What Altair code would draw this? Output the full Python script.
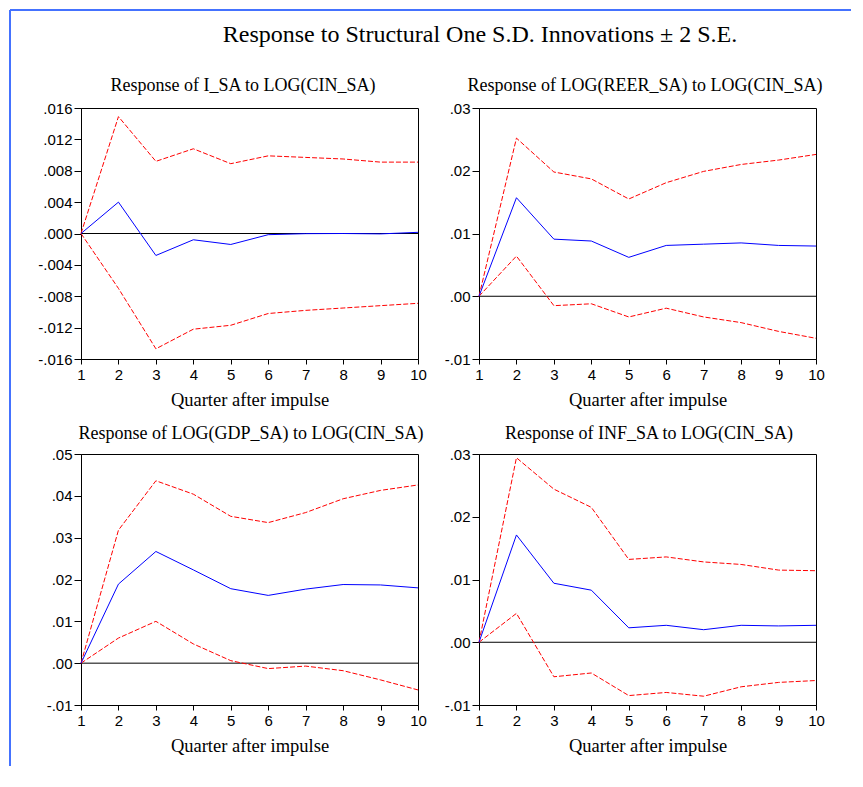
import altair as alt
import pandas as pd

quarters = list(range(1, 11))

titles = [
    "Response of I_SA to LOG(CIN_SA)",
    "Response of LOG(REER_SA) to LOG(CIN_SA)",
    "Response of LOG(GDP_SA) to LOG(CIN_SA)",
    "Response of INF_SA to LOG(CIN_SA)",
]
main_title = "Response to Structural One S.D. Innovations \u00b1 2 S.E."
x_title = "Quarter after impulse"

# Response of I_SA
isa_resp = [0, 0.0040, -0.0028, -0.0008, -0.0014, -0.00015, -0.00002, 0.0, -0.00005, 0.00015]
isa_up = [0, 0.0149, 0.0092, 0.0108, 0.0089, 0.0099, 0.0097, 0.0095, 0.0091, 0.0091]
isa_lo = [0, -0.0070, -0.0147, -0.0122, -0.0117, -0.0102, -0.0098, -0.0095, -0.0092, -0.0089]

# Response of LOG(REER_SA)
reer_resp = [0, 0.0157, 0.0091, 0.0088, 0.0062, 0.0081, 0.0083, 0.0085, 0.0081, 0.0080]
reer_up = [0, 0.0252, 0.0198, 0.0187, 0.0155, 0.0181, 0.0199, 0.0210, 0.0217, 0.0226]
reer_lo = [0, 0.0064, -0.0015, -0.0012, -0.0033, -0.0019, -0.0033, -0.0042, -0.0056, -0.0067]

# Response of LOG(GDP_SA)
gdp_resp = [0, 0.0189, 0.0267, 0.0223, 0.0178, 0.0162, 0.0177, 0.0188, 0.0187, 0.0180]
gdp_up = [0, 0.0318, 0.0436, 0.0404, 0.0351, 0.0336, 0.0360, 0.0393, 0.0413, 0.0426]
gdp_lo = [0, 0.0060, 0.0100, 0.0046, 0.0006, -0.0013, -0.0007, -0.0018, -0.0040, -0.0064]

# Response of INF_SA
inf_resp = [0, 0.0171, 0.0094, 0.0083, 0.0023, 0.0027, 0.0020, 0.0027, 0.0026, 0.0027]
inf_up = [0, 0.0294, 0.0244, 0.0215, 0.0132, 0.0136, 0.0128, 0.0124, 0.0115, 0.0114]
inf_lo = [0, 0.0046, -0.0055, -0.0049, -0.0085, -0.0080, -0.0086, -0.0071, -0.0064, -0.0061]

y_ticks = [
    [-0.016, -0.012, -0.008, -0.004, 0.0, 0.004, 0.008, 0.012, 0.016],
    [-0.01, 0.0, 0.01, 0.02, 0.03],
    [-0.01, 0.0, 0.01, 0.02, 0.03, 0.04, 0.05],
    [-0.01, 0.0, 0.01, 0.02, 0.03],
]
y_decimals = [3, 2, 2, 2]

series_sets = [
    (isa_resp, isa_up, isa_lo),
    (reer_resp, reer_up, reer_lo),
    (gdp_resp, gdp_up, gdp_lo),
    (inf_resp, inf_up, inf_lo),
]

# panel title placement (relative to each plot area)
title_x = [162, 166, 170, 170]
title_y = [-17, -17, -15, -15]

SERIF = "Liberation Serif"
SANS = "Liberation Sans"
W, H = 337, 251
FRAME_BLUE = "#4472ff"


def make_df(resp, up, lo):
    rows = []
    for name, vals in (("resp", resp), ("upper", up), ("lower", lo)):
        for q, v in zip(quarters, vals):
            rows.append({"quarter": q, "series": name, "value": v})
    return pd.DataFrame(rows)


one = pd.DataFrame({"k": [0]})


def panel(i, extra=None):
    resp, up, lo = series_sets[i]
    df = make_df(resp, up, lo)
    ticks = y_ticks[i]
    dec = y_decimals[i]
    label_expr = (
        "(datum.value < -1e-9 ? '-' : '') + substring(format(abs(datum.value), '.%df'), 1)" % dec
    )
    x = alt.X(
        "quarter:Q",
        scale=alt.Scale(domain=[1, 10], nice=False, zero=False),
        axis=alt.Axis(
            values=quarters, format="d", title=x_title, grid=False,
            labelFlush=False, tickSize=5, labelPadding=3, titlePadding=8,
        ),
    )
    y = alt.Y(
        "value:Q",
        scale=alt.Scale(domain=[ticks[0], ticks[-1]], nice=False, zero=False),
        axis=alt.Axis(
            values=ticks, labelExpr=label_expr, title=None, grid=False,
            tickSize=7, labelPadding=2, labelOverlap=False, labelFlush=False,
        ),
    )
    base = alt.Chart(df)
    zero_df = pd.DataFrame({"quarter": [1, 10], "value": [0.0, 0.0]})
    zero = alt.Chart(zero_df).mark_line(color="black", strokeWidth=1).encode(x=x, y=y)
    bands = base.transform_filter("datum.series != 'resp'").mark_line(
        color="#ff0000", strokeWidth=1, strokeDash=[5, 2]
    ).encode(x=x, y=y, detail="series:N")
    line = base.transform_filter("datum.series == 'resp'").mark_line(
        color="#0000ff", strokeWidth=1
    ).encode(x=x, y=y)
    ptitle = alt.Chart(one).mark_text(
        text=titles[i], font=SERIF, fontSize=18, color="black",
        align="center", baseline="alphabetic",
    ).encode(x=alt.value(title_x[i]), y=alt.value(title_y[i]))
    layers = [zero, bands, line, ptitle]
    if extra:
        layers += extra
    return alt.layer(*layers).properties(width=W, height=H)


frame_top = alt.Chart(one).mark_rule(color=FRAME_BLUE, strokeWidth=2).encode(
    x=alt.value(-71), x2=alt.value(770), y=alt.value(-98)
)
frame_left = alt.Chart(one).mark_rule(color=FRAME_BLUE, strokeWidth=2).encode(
    x=alt.value(-71), y=alt.value(-98), y2=alt.value(658)
)
head = alt.Chart(one).mark_text(
    text=main_title, font=SERIF, fontSize=24, color="black",
    align="center", baseline="alphabetic",
).encode(x=alt.value(399), y=alt.value(-66))

p1 = panel(0, [frame_top, frame_left, head])
p2 = panel(1)
p3 = panel(2)
p4 = panel(3)

chart = alt.concat(
    p1, p2, p3, p4, columns=2, spacing={"row": 95, "column": 61}, bounds="flush",
    padding=0,
).configure_view(
    stroke="black", strokeWidth=1
).configure_axis(
    labelFont=SANS, labelFontSize=15, labelColor="black",
    titleFont=SERIF, titleFontSize=18.5, titleFontWeight="normal", titleColor="black",
    tickColor="black", domainColor="black",
)

chart.save("out.html", embed_options={"renderer": "svg", "actions": False})
